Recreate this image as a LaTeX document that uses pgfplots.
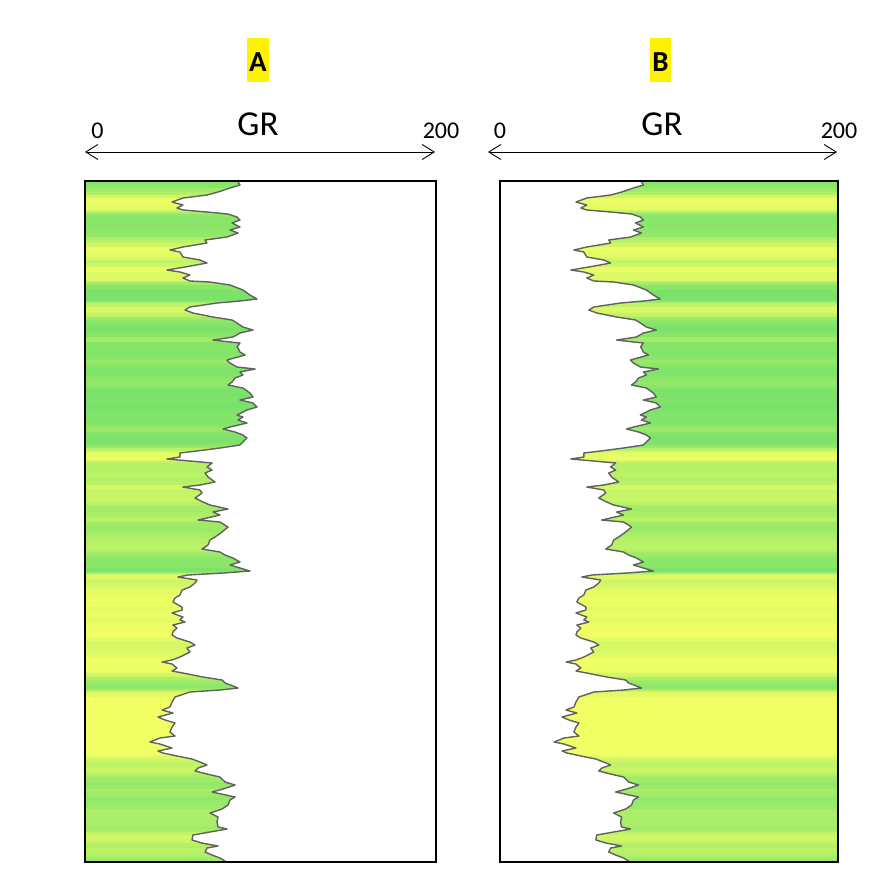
\documentclass[border=0pt]{standalone}
\usepackage{fontspec}
\setmainfont{Carlito}
\usepackage{pgfplots}
\usepackage{pgfplotstable}
\pgfplotsset{compat=1.18}
\usetikzlibrary{arrows.meta}

\pgfplotstableread{
d gr
0 87.0
1 87.2
4 88.3
7 82.6
11 75.8
14 69.5
17 55.8
21 49.6
24 55.8
27 52.4
29 55.8
31 69.5
33 81.5
36 86.6
39 88.3
42 83.8
46 88.3
49 82.6
52 87.2
56 80.9
59 68.4
62 69.5
66 55.8
69 48.4
71 54.1
76 55.8
79 65.5
82 69.5
86 57.0
89 46.7
91 54.1
94 59.8
97 55.8
100 59.8
101 71.2
104 82.6
109 90.0
114 94.0
118 98.0
120 88.3
122 75.2
126 59.8
129 57.0
132 61.5
136 72.9
139 83.8
142 86.6
146 90.0
149 95.7
152 88.3
156 84.3
159 72.9
161 82.6
162 88.3
166 86.6
167 87.2
171 88.3
174 91.2
179 80.9
182 82.6
186 86.6
188 96.9
191 88.3
194 90.0
197 85.5
201 83.8
204 81.5
207 90.0
212 94.0
216 95.7
219 88.3
222 95.7
226 98.0
229 92.3
234 86.6
236 90.0
239 87.2
242 92.3
246 82.6
248 78.6
251 85.5
254 90.0
257 92.3
261 90.0
264 88.3
267 76.9
270 63.8
272 54.1
276 54.1
278 46.7
280 59.8
282 72.4
286 69.5
289 72.4
292 68.4
296 70.1
301 74.1
304 65.5
306 55.8
309 65.5
312 66.7
317 62.7
321 67.2
324 71.2
328 81.5
331 72.9
334 76.9
337 69.5
339 64.4
341 76.9
346 81.5
351 78.1
356 74.1
359 71.2
364 70.1
368 66.7
371 76.9
374 79.8
377 84.3
381 88.3
384 82.6
387 88.3
390 94.0
392 78.6
394 58.7
396 53.0
399 63.8
402 62.7
406 59.8
409 55.3
414 54.1
417 51.3
421 50.1
426 55.3
429 55.3
432 49.6
436 55.8
439 54.1
441 57.0
444 50.1
447 52.4
451 50.1
454 49.6
457 52.4
461 59.8
464 62.7
467 58.1
471 59.8
476 54.1
479 49.6
481 43.9
483 49.6
487 52.4
490 49.6
492 55.8
496 67.2
499 78.1
502 79.8
504 83.0
507 87.2
509 76.9
511 59.8
516 51.3
521 49.6
526 48.4
529 43.9
532 50.1
536 41.6
539 45.6
542 51.3
546 49.6
551 48.4
555 51.3
557 42.7
561 37.0
563 42.7
567 49.6
570 41.6
572 44.4
575 52.4
578 61.0
581 65.5
584 69.5
587 64.4
590 62.7
593 69.5
596 76.9
601 79.8
604 85.5
608 78.6
611 72.4
616 85.5
619 82.6
624 81.5
628 78.1
632 71.2
636 75.8
641 75.2
646 75.8
648 80.9
651 71.2
654 61.5
659 61.0
662 66.7
665 75.8
667 69.5
671 68.4
674 72.4
677 76.9
680 79.8
681 80.0
}\grdata
\pgfplotstablegetrowsof{\grdata}
\pgfmathtruncatemacro\N{\pgfplotsretval}
\pgfplotstablevertcat{\grdouble}{\grdata}
\pgfplotstablevertcat{\grdouble}{\grdata}

\pgfplotsset{
  logstyle/.style={
    scale only axis, height=681pt,
    ymin=0, ymax=681, y dir=reverse,
    ticks=none, axis on top,
    axis line style={line width=1.4pt},
    colormap={gy}{rgb255=(242,255,100) rgb255=(122,226,106)},
    point meta min=50, point meta max=92,
  },
  bandfill/.style={surf, shader=flat, mesh/rows=2, mesh/cols=\N, point meta=explicit},
  grline/.style={draw=black!62, line width=1.4pt, line join=round},
}

\begin{document}
\begin{tikzpicture}
\path[use as bounding box] (0pt,0pt) rectangle (885pt,-893pt);

% Panel A
\begin{axis}[logstyle, at={(85pt,-181pt)}, anchor=north west, width=351pt, xmin=0, xmax=200]
\addplot[bandfill] table[x expr={\coordindex<\N ? 0 : \thisrow{gr}}, y=d, meta=gr] {\grdouble};
\addplot[grline] table[x=gr, y=d] {\grdata};
\end{axis}

% Panel B
\begin{axis}[logstyle, at={(500pt,-181pt)}, anchor=north west, width=338pt, xmin=6, xmax=200]
\addplot[bandfill] table[x expr={\coordindex<\N ? \thisrow{gr} : 200}, y=d, meta=gr] {\grdouble};
\addplot[grline] table[x=gr, y=d] {\grdata};
\end{axis}

% headers
\fill[yellow] (247pt,-38pt) rectangle (269pt,-82pt);
\node[inner sep=0pt, font=\bfseries\fontsize{29}{33}\selectfont] at (258pt,-62pt) {A};
\fill[yellow] (650pt,-38pt) rectangle (671pt,-82pt);
\node[inner sep=0pt, font=\bfseries\fontsize{29}{33}\selectfont] at (660.5pt,-62pt) {B};

\node[inner sep=0pt, font=\fontsize{35}{40}\selectfont] at (258pt,-124pt) {GR};
\node[inner sep=0pt, font=\fontsize{35}{40}\selectfont] at (662pt,-124pt) {GR};

\node[inner sep=0pt, font=\fontsize{24}{28}\selectfont] at (97.5pt,-131pt) {0};
\node[inner sep=0pt, font=\fontsize{24}{28}\selectfont] at (441pt,-131pt) {200};
\node[inner sep=0pt, font=\fontsize{24}{28}\selectfont] at (500pt,-131pt) {0};
\node[inner sep=0pt, font=\fontsize{24}{28}\selectfont] at (839pt,-131pt) {200};

\draw[{Straight Barb[length=12pt,width=15pt]}-{Straight Barb[length=12pt,width=15pt]}, line width=0.9pt]
  (85pt,-152pt) -- (435pt,-152pt);
\draw[{Straight Barb[length=12pt,width=15pt]}-{Straight Barb[length=12pt,width=15pt]}, line width=0.9pt]
  (488pt,-152pt) -- (837pt,-152pt);
\end{tikzpicture}
\end{document}
